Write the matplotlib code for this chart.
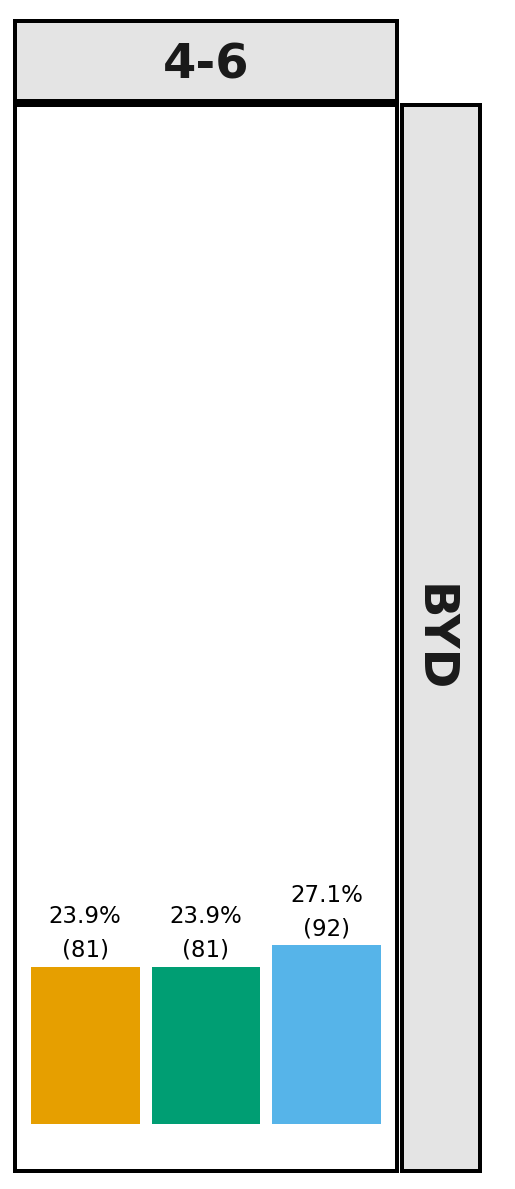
import matplotlib
matplotlib.use("Agg")
import matplotlib.pyplot as plt

# Data
facet_col = "4-6"
facet_row = "BYD"
categories = ["cat1", "cat2", "cat3"]
counts = [81, 81, 92]
percents = [23.9, 23.9, 27.1]
colors = ["#E69F00", "#009E73", "#56B4E9"]

W, H = 515, 1189
DPI = 100
fig = plt.figure(figsize=(W / DPI, H / DPI), dpi=DPI)
fig.patch.set_facecolor("white")

LW = 4 * 72 / DPI  # 4 px border


def box(x0, y0, x1, y1):
    """pixel coords (top-left origin) -> figure fraction axes"""
    return [x0 / W, 1 - y1 / H, (x1 - x0) / W, (y1 - y0) / H]


# main panel
ax = fig.add_axes(box(14.5, 105.0, 397.0, 1170.6))
xs = list(range(len(categories)))
ax.bar(xs, counts, width=0.9, color=colors, linewidth=0)
for x, c, p in zip(xs, counts, percents):
    ax.annotate(f"{p}%\n({c})", xy=(x, c), xytext=(0, 3.5), textcoords="offset points",
                ha="center", va="bottom", fontsize=16.5, linespacing=1.6, color="black")
ax.set_xlim(-0.586, 2.584)
ax.set_ylim(-24.0, 524.7)
ax.set_xticks([])
ax.set_yticks([])
for s in ax.spines.values():
    s.set_linewidth(LW)
    s.set_color("black")

# top strip
axt = fig.add_axes(box(14.5, 21.0, 397.0, 100.5))
axt.set_facecolor("#E4E4E4")
axt.set_xticks([]); axt.set_yticks([])
for s in axt.spines.values():
    s.set_linewidth(LW); s.set_color("black")
axt.text(0.5, 0.5 - 4.5 / 79.5, facet_col, transform=axt.transAxes, ha="center", va="center",
         fontsize=34.5, fontweight="bold", color="#1A1A1A")

# right strip
axr = fig.add_axes(box(401.5, 105.0, 480.0, 1170.6))
axr.set_facecolor("#E4E4E4")
axr.set_xticks([]); axr.set_yticks([])
for s in axr.spines.values():
    s.set_linewidth(LW); s.set_color("black")
axr.text(0.5 - 7.5 / 78.5, 0.5, facet_row, transform=axr.transAxes, ha="center", va="center",
         rotation=270, fontsize=34.5, fontweight="bold", color="#1A1A1A")

fig.savefig("out.png", dpi=DPI, facecolor="white")
